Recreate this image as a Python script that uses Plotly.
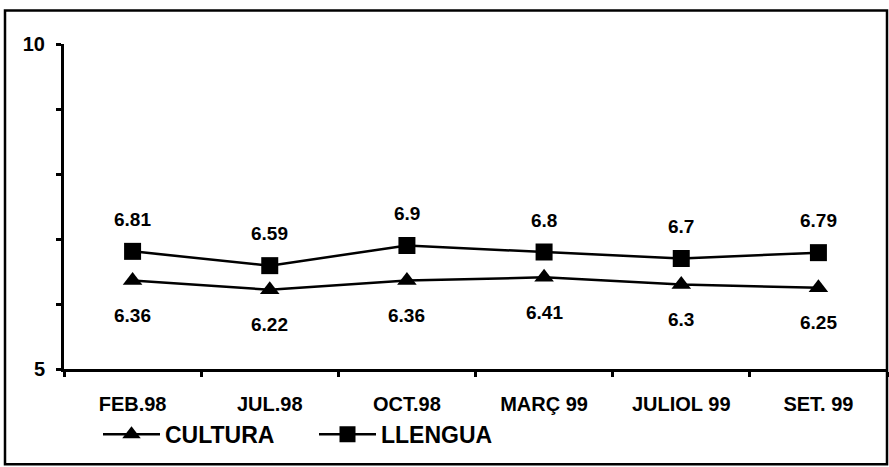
import plotly.graph_objects as go

categories = ["FEB.98", "JUL.98", "OCT.98", "MARÇ 99", "JULIOL 99", "SET. 99"]
cultura = [6.36, 6.22, 6.36, 6.41, 6.3, 6.25]
llengua = [6.81, 6.59, 6.9, 6.8, 6.7, 6.79]
y_tickvals = [5, 6, 7, 8, 9, 10]
y_ticktext = ["5", "", "", "", "", "10"]

FONT = "Liberation Sans, Arial, sans-serif"

fig = go.Figure()
fig.add_trace(go.Scatter(
    x=categories, y=cultura, name="CULTURA", mode="lines+markers",
    line=dict(color="black", width=2.5),
    marker=dict(symbol="triangle-up", size=17, color="black"),
))
fig.add_trace(go.Scatter(
    x=categories, y=llengua, name="LLENGUA", mode="lines+markers",
    line=dict(color="black", width=2.5),
    marker=dict(symbol="square", size=17, color="black"),
))

lab_font = dict(family=FONT, size=19, color="black", weight="bold")
annotations = []
for c, v in zip(categories, llengua):
    annotations.append(dict(x=c, y=v, text=f"{v:g}", showarrow=False, yshift=32, font=lab_font))
for c, v in zip(categories, cultura):
    annotations.append(dict(x=c, y=v, text=f"{v:g}", showarrow=False, yshift=-35, font=lab_font))

# outer border frame (paper coords relative to plot area)
L, R, T, B = 64, 887, 43.5, 369.5
W, H = R - L, B - T
def px(x):
    return (x - L) / W
def py(y):
    return (B - y) / H

fig.update_layout(
    width=889, height=467,
    margin=dict(l=L, r=889 - R, t=T, b=467 - B),
    paper_bgcolor="white", plot_bgcolor="white",
    font=dict(family=FONT, size=19, color="black"),
    showlegend=True,
    legend=dict(orientation="h", x=px(98), y=py(435), xanchor="left", yanchor="middle",
                font=dict(family=FONT, size=23, color="black", weight="bold"),
                itemwidth=57, entrywidth=144, bgcolor="rgba(0,0,0,0)"),
    annotations=annotations,
    shapes=[dict(type="rect", xref="paper", yref="paper",
                 x0=px(5), x1=px(887), y0=py(465), y1=py(10),
                 line=dict(color="black", width=2.5), fillcolor="rgba(0,0,0,0)", layer="below")],
    xaxis=dict(type="category", range=[-0.5, 5.5], showgrid=False, zeroline=False,
               showline=True, linecolor="black", linewidth=3,
               ticks="outside", tickson="boundaries", ticklen=5, tickwidth=2.5, tickcolor="black",
               ticklabelstandoff=15,
               tickfont=dict(family=FONT, size=20, color="black", weight="bold")),
    yaxis=dict(range=[5, 10], showgrid=False, zeroline=False,
               showline=True, linecolor="black", linewidth=3,
               tickvals=y_tickvals, ticktext=y_ticktext,
               ticks="outside", ticklen=5, tickwidth=2.5, tickcolor="black",
               ticklabelstandoff=7,
               tickfont=dict(family=FONT, size=20, color="black", weight="bold")),
)

fig.write_html("out.html", config={"displayModeBar": False},
               post_script="document.body.style.margin='0';")
